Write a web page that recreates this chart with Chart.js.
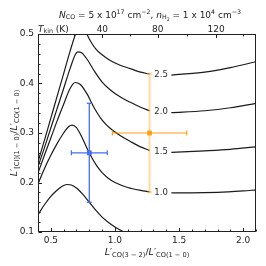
<!DOCTYPE html>
<html>
<head>
<meta charset="utf-8">
<script src="https://cdn.jsdelivr.net/npm/chart.js@4.4.0/dist/chart.umd.min.js"></script>
<style>
  html, body { margin: 0; padding: 0; background: #fff; }
</style>
</head>
<body>
<canvas id="c" width="266" height="266"></canvas>
<script>
// model curves (a null point leaves the gap for the inline label)
const x05 = [0.40, 0.45, 0.50, 0.55, 0.60, 0.63, 0.66, 0.70, 0.75, 0.80, 0.85, 0.90, 0.95, 1.00, 1.07, 1.15];
const y05 = [0.135, 0.155, 0.172, 0.185, 0.194, 0.196, 0.195, 0.189, 0.176, 0.160, 0.144, 0.130, 0.119, 0.110, 0.100, 0.092];

const x10 = [0.40, 0.45, 0.50, 0.55, 0.60, 0.64, 0.665, 0.70, 0.74, 0.78, 0.82, 0.86, 0.90, 0.95, 1.00, 1.10, 1.20, 1.27, 1.36, 1.44, 1.60, 1.80, 2.00, 2.10];
const y10 = [0.197, 0.228, 0.255, 0.279, 0.300, 0.313, 0.316, 0.311, 0.293, 0.270, 0.250, 0.233, 0.220, 0.208, 0.200, 0.190, 0.184, 0.181, null, 0.179, 0.179, 0.180, 0.183, 0.185];

const x15 = [0.40, 0.45, 0.50, 0.55, 0.60, 0.65, 0.69, 0.73, 0.78, 0.84, 0.90, 0.96, 1.04, 1.12, 1.20, 1.27, 1.36, 1.44, 1.70, 1.90, 2.10];
const y15 = [0.219, 0.255, 0.290, 0.325, 0.358, 0.390, 0.402, 0.398, 0.380, 0.350, 0.326, 0.310, 0.295, 0.283, 0.272, 0.265, null, 0.261, 0.264, 0.267, 0.272];

const x20 = [0.40, 0.45, 0.50, 0.55, 0.60, 0.65, 0.69, 0.71, 0.74, 0.78, 0.84, 0.90, 0.96, 1.04, 1.12, 1.20, 1.27, 1.36, 1.44, 1.70, 1.90, 2.10];
const y20 = [0.232, 0.270, 0.310, 0.350, 0.390, 0.430, 0.458, 0.464, 0.462, 0.450, 0.425, 0.403, 0.388, 0.373, 0.362, 0.352, 0.345, null, 0.341, 0.345, 0.351, 0.360];

const x25 = [0.40, 0.45, 0.50, 0.55, 0.60, 0.65, 0.70, 0.73, 0.76, 0.80, 0.85, 0.90, 0.96, 1.04, 1.12, 1.20, 1.27, 1.36, 1.44, 1.70, 1.90, 2.10];
const y25 = [0.242, 0.285, 0.330, 0.375, 0.420, 0.465, 0.505, 0.520, 0.510, 0.490, 0.470, 0.458, 0.447, 0.437, 0.430, 0.423, 0.419, null, 0.417, 0.423, 0.432, 0.444];

const curveLabels = ['1.0', '1.5', '2.0', '2.5'];
const curveLabelY = [0.180, 0.263, 0.343, 0.418];
const curveLabelX = 1.36;

// observed points: [x, y], errors: [xerr, yerr]
const bluePoint = [0.80, 0.26];
const blueErr = [0.14, 0.10];
const orangePoint = [1.27, 0.30];
const orangeErr = [0.29, 0.12];

// top axis: kinetic temperature ticks placed on the x scale
const topTickT = [20, 40, 60, 80, 100, 120, 140];
const topTickX = [0.681, 0.902, 1.118, 1.334, 1.565, 1.789, 2.001];
const topMajor = [40, 80, 120];

const FONT = '"DejaVu Sans"';
Chart.defaults.font.family = FONT;

function pts(xs, ys) {
  return xs.map((v, i) => ({ x: v, y: ys[i] }));
}

function curve(xs, ys) {
  return {
    type: 'line',
    data: pts(xs, ys),
    borderColor: '#1b1b1b',
    borderWidth: 1.2,
    pointRadius: 0,
    cubicInterpolationMode: 'monotone',
    spanGaps: false,
    order: 5
  };
}

function errBars(p, e, hColor, vColor, vWidth, base) {
  return [
    {
      type: 'line',
      data: [{ x: p[0], y: p[1] - e[1] }, { x: p[0], y: p[1] + e[1] }],
      borderColor: vColor, borderWidth: vWidth,
      pointStyle: 'line', rotation: 0, pointRadius: 2.5,
      pointBorderColor: vColor, pointBorderWidth: vWidth,
      order: base + 2
    },
    {
      type: 'line',
      data: [{ x: p[0] - e[0], y: p[1] }, { x: p[0] + e[0], y: p[1] }],
      borderColor: hColor, borderWidth: 1.2,
      pointStyle: 'line', rotation: 90, pointRadius: 2.5,
      pointBorderColor: hColor, pointBorderWidth: 1.2,
      order: base + 1
    },
    {
      type: 'scatter',
      data: [{ x: p[0], y: p[1] }],
      pointStyle: 'rect', pointRadius: 3.4,
      backgroundColor: hColor, borderColor: hColor, borderWidth: 0,
      order: base
    }
  ];
}

// text with italic / sub / superscript runs
function rich(ctx, parts, x, y, size, align) {
  const spec = k => {
    if (k === 'b') return { s: size * 0.7, dy: size * 0.22, it: false };
    if (k === 'p') return { s: size * 0.7, dy: -size * 0.42, it: false };
    if (k === 'bb') return { s: size * 0.52, dy: size * 0.38, it: false };
    return { s: size, dy: 0, it: k === 'i' };
  };
  const font = sp => (sp.it ? 'italic ' : '') + sp.s.toFixed(2) + 'px ' + FONT;
  let total = 0;
  parts.forEach(([t, k]) => { ctx.font = font(spec(k)); total += ctx.measureText(t).width; });
  let cx = align === 'center' ? x - total / 2 : x;
  ctx.textAlign = 'left';
  ctx.textBaseline = 'alphabetic';
  parts.forEach(([t, k]) => {
    const sp = spec(k);
    ctx.font = font(sp);
    ctx.fillText(t, cx, y + sp.dy);
    cx += ctx.measureText(t).width;
  });
}

const decor = {
  id: 'decor',
  afterDatasetsDraw(chart) {
    const { ctx, chartArea: a, scales: { x, y } } = chart;
    ctx.save();

    // inline contour labels
    ctx.fillStyle = '#2a2a2a';
    ctx.font = '8.5px ' + FONT;
    ctx.textAlign = 'center';
    ctx.textBaseline = 'middle';
    curveLabels.forEach((t, i) => {
      ctx.fillText(t, x.getPixelForValue(curveLabelX), y.getPixelForValue(curveLabelY[i]));
    });

    // frame
    ctx.strokeStyle = '#222';
    ctx.lineWidth = 1;
    const L = Math.round(a.left) + 0.5, R = Math.round(a.right) - 0.5;
    const T = Math.round(a.top) + 0.5, B = Math.round(a.bottom) - 0.5;
    ctx.strokeRect(L, T, R - L, B - T);

    // inward ticks
    ctx.beginPath();
    for (let v = 0.4; v <= 2.1001; v += 0.1) {
      const px = Math.round(x.getPixelForValue(v)) + 0.5;
      const major = Math.abs(v * 2 - Math.round(v * 2)) < 1e-6;
      ctx.moveTo(px, B); ctx.lineTo(px, B - (major ? 3.5 : 2));
    }
    for (let v = 0.1; v <= 0.5001; v += 0.02) {
      const py = Math.round(y.getPixelForValue(v)) + 0.5;
      const major = Math.abs(v * 10 - Math.round(v * 10)) < 1e-6;
      ctx.moveTo(L, py); ctx.lineTo(L + (major ? 3.5 : 2), py);
    }
    topTickX.forEach((v, i) => {
      const px = Math.round(x.getPixelForValue(v)) + 0.5;
      const major = topMajor.includes(topTickT[i]);
      ctx.moveTo(px, T); ctx.lineTo(px, T + (major ? 3.5 : 2));
    });
    ctx.stroke();

    // top axis labels
    ctx.fillStyle = '#222';
    ctx.font = '9px ' + FONT;
    ctx.textAlign = 'center';
    ctx.textBaseline = 'alphabetic';
    topTickX.forEach((v, i) => {
      if (topMajor.includes(topTickT[i])) ctx.fillText(String(topTickT[i]), x.getPixelForValue(v), 31.5);
    });
    rich(ctx, [['T', 'i'], ['kin', 'b'], [' (K)', 'n']], 38, 31.5, 9, 'left');

    // title
    rich(ctx, [
      ['N', 'i'], ['CO', 'b'], [' = 5 x 10', 'n'], ['17', 'p'], [' cm', 'n'], ['\u22122', 'p'],
      [', ', 'n'], ['n', 'i'], ['H', 'b'], ['2', 'bb'], [' = 1 x 10', 'n'], ['4', 'p'], [' cm', 'n'], ['\u22123', 'p']
    ], 150, 17.5, 9, 'center');

    // x title
    rich(ctx, [
      ['L\u2032', 'i'], ['CO(3 \u2212 2)', 'b'], ['/', 'n'], ['L\u2032', 'i'], ['CO(1 \u2212 0)', 'b']
    ], (a.left + a.right) / 2, 255, 9.5, 'center');

    // y title
    ctx.translate(16.5, (a.top + a.bottom) / 2);
    ctx.rotate(-Math.PI / 2);
    rich(ctx, [
      ['L\u2032', 'i'], ['[CI](1 \u2212 0)', 'b'], ['/', 'n'], ['L\u2032', 'i'], ['CO(1 \u2212 0)', 'b']
    ], 0, 0, 9.5, 'center');

    ctx.restore();
  }
};

new Chart(document.getElementById('c'), {
  type: 'scatter',
  data: {
    datasets: [
      curve(x05, y05),
      curve(x10, y10),
      curve(x15, y15),
      curve(x20, y20),
      curve(x25, y25),
      ...errBars(bluePoint, blueErr, 'rgb(70,110,240)', 'rgb(70,110,240)', 1.3, 0),
      ...errBars(orangePoint, orangeErr, 'rgb(255,160,20)', 'rgba(255,170,40,0.45)', 2, 0)
    ]
  },
  options: {
    responsive: false,
    animation: false,
    layout: { padding: { left: 0, right: 10, top: 34, bottom: 0 } },
    plugins: { legend: { display: false }, tooltip: { enabled: false } },
    scales: {
      x: {
        type: 'linear', min: 0.4, max: 2.1,
        afterFit: s => { s.height = 34; },
        grid: { display: false, drawTicks: false },
        border: { display: false },
        ticks: {
          stepSize: 0.5, includeBounds: false, padding: 3,
          color: '#222', font: { size: 9 },
          callback: v => v.toFixed(1)
        }
      },
      y: {
        type: 'linear', min: 0.1, max: 0.5,
        afterFit: s => { s.width = 38; },
        grid: { display: false, drawTicks: false },
        border: { display: false },
        ticks: {
          stepSize: 0.1, padding: 4,
          color: '#222', font: { size: 9 },
          callback: v => v.toFixed(1)
        }
      }
    }
  },
  plugins: [decor]
});
</script>
</body>
</html>
